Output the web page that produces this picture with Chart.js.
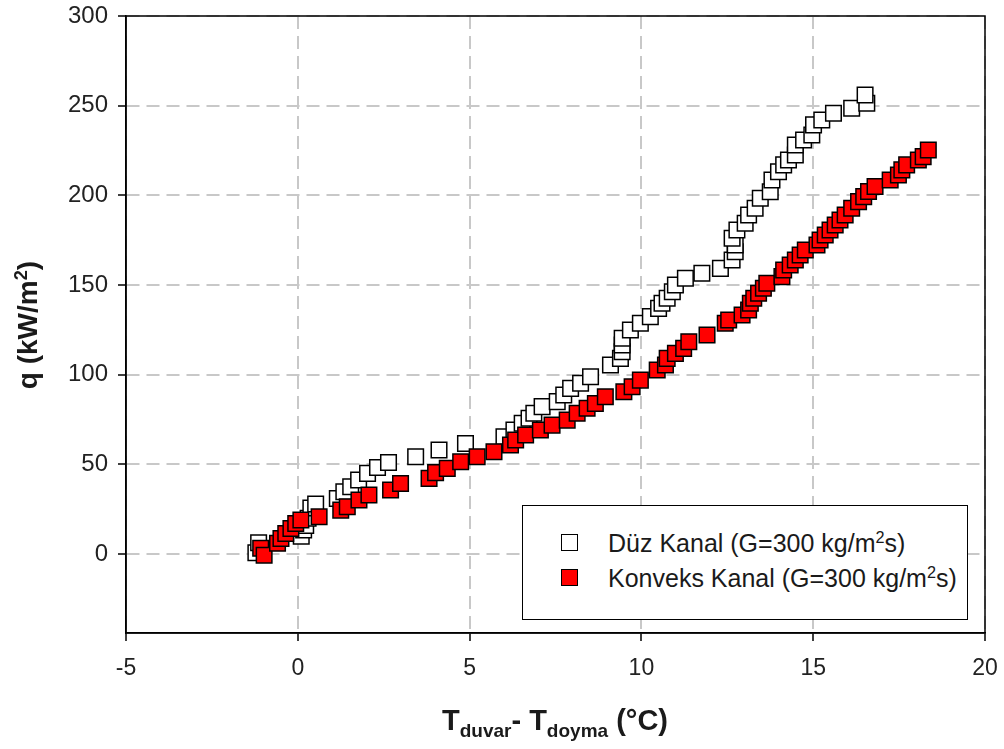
<!DOCTYPE html>
<html><head><meta charset="utf-8">
<script src="https://cdn.jsdelivr.net/npm/chart.js@4.4.0/dist/chart.umd.min.js"></script>
<style>
html,body{margin:0;padding:0;background:#fff;}
#wrap{position:relative;width:1004px;height:749px;font-family:"Liberation Sans",Arial,sans-serif;color:#1a1a1a;overflow:hidden}
canvas{position:absolute;left:0;top:0}
#xt{position:absolute;left:305px;width:500px;top:703px;text-align:center;font-weight:bold;font-size:29px;line-height:34px;white-space:nowrap}
#xt sub{font-size:19px;vertical-align:-7px;line-height:0}
#yt{position:absolute;left:-122px;top:308px;width:300px;height:34px;line-height:34px;text-align:center;font-weight:bold;font-size:28px;transform:rotate(-90deg);white-space:nowrap}
#yt sup,#leg sup{font-size:65%;vertical-align:0.55em;line-height:0}
#leg{position:absolute;left:522px;top:505px;width:446px;height:115px;box-sizing:border-box;border:1.5px solid #000;background:#fff;font-size:25px}
.it{position:absolute;left:85px;white-space:nowrap;line-height:30px}
.mk{position:absolute;left:38px;width:15px;height:15px;border:1.5px solid #000}
</style>
</head><body>
<div id="wrap">
<canvas id="c" width="1004" height="749"></canvas>
<div id="yt">q (kW/m<sup>2</sup>)</div>
<div id="xt">T<sub>duvar</sub>- T<sub>doyma</sub> (°C)</div>
<div id="leg">
  <div class="mk" style="top:28px;background:#fff"></div><div class="it" style="top:22px">Düz Kanal (G=300 kg/m<sup>2</sup>s)</div>
  <div class="mk" style="top:63px;background:#f00"></div><div class="it" style="top:57px">Konveks Kanal (G=300 kg/m<sup>2</sup>s)</div>
</div>
</div>
<script>
const seriesNames = ["Düz Kanal (G=300 kg/m²s)", "Konveks Kanal (G=300 kg/m²s)"];
const xTicks = [-5, 0, 5, 10, 15, 20];
const yTicks = [0, 50, 100, 150, 200, 250, 300];

const duzX = [-1.22,-1.14,0.1,0.17,0.23,0.3,0.38,0.52,1.15,1.34,1.54,1.77,2.03,2.32,2.64,3.43,4.11,4.88,6.0,6.29,6.53,6.73,6.87,7.11,7.55,7.74,7.94,8.23,8.52,9.1,9.39,9.44,9.44,9.44,9.68,9.97,10.26,10.5,10.6,10.75,10.9,10.99,11.28,11.76,12.30,12.64,12.73,12.73,12.64,12.78,13.02,13.12,13.31,13.46,13.75,13.8,13.99,14.14,14.28,14.48,14.48,14.72,14.96,15.01,15.25,15.59,16.12,16.56,16.51];
const duzY = [0.7,6.3,10,13.4,16,20,25.7,27.9,31,34.8,37.5,41.3,45,48.3,51.1,54.3,58,61.7,65.4,69.2,72.9,75.7,78.5,82.2,85,88.7,92.4,95.2,98.9,105.4,109.1,112.8,116.6,120.3,124.9,128.7,132.4,137,139.8,142.6,146.3,150,153.8,156.6,159.3,164,168.6,172.3,176.1,180.7,184.4,189.1,192.8,198.4,202,208.6,213.2,217,219.7,222.5,228.1,230.9,233.7,239.3,242,245.8,248.6,251.4,256];

const konX = [-1.08,-0.98,-0.59,-0.49,-0.35,-0.2,-0.06,0.09,0.62,1.25,1.44,1.78,2.07,2.7,2.99,3.82,4.01,4.35,4.74,5.22,5.71,6.19,6.34,6.63,7.06,7.4,7.84,8.13,8.42,8.66,8.95,9.49,9.73,9.97,10.46,10.7,10.75,10.99,11.23,11.38,11.91,12.44,12.54,12.93,13.12,13.17,13.27,13.41,13.55,13.65,14.09,14.14,14.33,14.48,14.62,14.77,15.11,15.2,15.35,15.49,15.64,15.78,15.93,16.12,16.32,16.47,16.61,16.8,17.24,17.48,17.58,17.72,18.06,18.2,18.35];
const konY = [3.2,-0.6,6,8.7,11.5,14.3,17.1,19,20.8,24.5,26.4,30.1,32.9,35.7,39.4,42.2,45.4,47.8,51.5,54.3,57.1,60.8,63.6,66.4,69.2,71.9,74.7,78.5,81.3,84,87.7,90.5,93.3,97,102.6,105.4,109.1,111.9,114.7,118.4,122.1,128.7,130.5,133.3,136.1,139.8,142.6,145.4,148.2,151,154.7,158.4,161.2,164,166.8,169.5,172.3,175.1,177.9,180.7,183.5,186.3,189.1,192.8,196.5,199.3,202.1,204.9,208.6,211.4,214.2,217,219.7,221.6,225.3];

const toPts = (xs, ys) => xs.map((x, i) => ({x: x, y: ys[i]}));
const FONT = '"Liberation Sans", Arial, sans-serif';

const frame = {
  id: 'frame',
  beforeDatasetsDraw(chart) {
    const a = chart.chartArea, ctx = chart.ctx;
    ctx.save();
    ctx.strokeStyle = '#000';
    ctx.lineWidth = 1.5;
    ctx.strokeRect(a.left, a.top, a.right - a.left, a.bottom - a.top);
    ctx.restore();
  }
};

const gridOpts = {
  color: '#c8c8c8', lineWidth: 2,
  drawTicks: true, tickLength: 8, tickColor: '#000', tickWidth: 1.5, tickBorderDash: [4, 0]
};
const borderOpts = { display: true, color: '#000', width: 1.5, dash: [13, 7] };

new Chart(document.getElementById('c'), {
  type: 'scatter',
  data: {
    datasets: [
      { label: seriesNames[0], data: toPts(duzX, duzY), pointStyle: 'rect', pointRadius: 11, pointHoverRadius: 11,
        backgroundColor: '#fff', borderColor: '#000', borderWidth: 1.5, order: 2 },
      { label: seriesNames[1], data: toPts(konX, konY), pointStyle: 'rect', pointRadius: 11, pointHoverRadius: 11,
        backgroundColor: '#f00', borderColor: '#000', borderWidth: 1.5, order: 1 }
    ]
  },
  options: {
    responsive: false, animation: false,
    layout: { padding: { left: 0, right: 19, top: 16, bottom: 0 } },
    plugins: { legend: { display: false }, tooltip: { enabled: false } },
    scales: {
      x: {
        type: 'linear', min: -5, max: 20,
        afterBuildTicks: s => { s.ticks = xTicks.map(v => ({ value: v })); },
        afterFit: s => { s.height = 116; s.paddingLeft = 0; s.paddingRight = 0; },
        grid: gridOpts,
        border: borderOpts,
        ticks: { font: { size: 23, family: FONT }, color: '#222', padding: 14, maxRotation: 0 }
      },
      y: {
        type: 'linear', min: -44, max: 300,
        afterBuildTicks: s => { s.ticks = yTicks.map(v => ({ value: v })); },
        afterFit: s => { s.width = 126; s.paddingTop = 0; s.paddingBottom = 0; },
        grid: gridOpts,
        border: borderOpts,
        ticks: { font: { size: 24, family: FONT }, color: '#222', padding: 10 }
      }
    }
  },
  plugins: [frame]
});
</script>
</body></html>
